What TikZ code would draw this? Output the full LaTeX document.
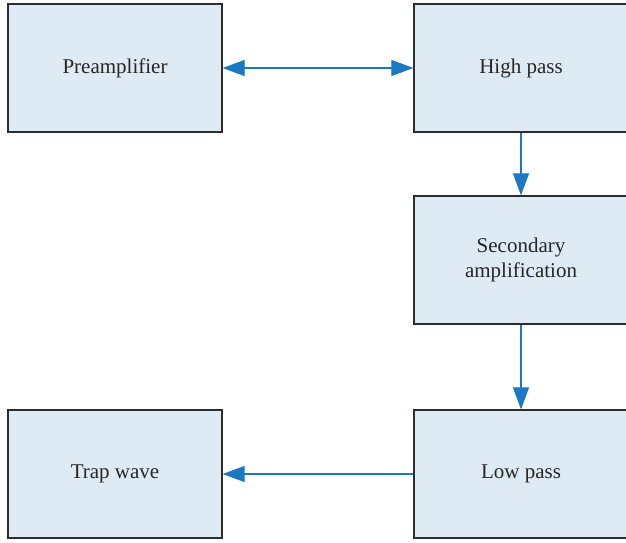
\documentclass[tikz,border=0pt]{standalone}
\usepackage{fontspec}
\setmainfont{Liberation Serif}
\usepackage{tikz}
\usetikzlibrary{arrows.meta}
\definecolor{boxfill}{RGB}{222,234,244}
\definecolor{boxline}{RGB}{45,45,45}
\definecolor{flow}{RGB}{27,120,194}

\tikzset{
	block/.style={draw=boxline, fill=boxfill, line width=1.3pt, minimum width=214pt, minimum height=128pt, inner sep=0pt, align=center, font=\fontsize{21}{25}\selectfont, text=black!85},
	flowline/.style={draw=flow, line width=1.2pt, -{Triangle[length=22pt,width=16pt]}}
}

\begin{document}
\begin{tikzpicture}[x=1pt,y=-1pt]
	\clip (0,0) rectangle (626,542);
	\fill[white] (0,0) rectangle (626,542);

	\node[block] (pre) at (115,68) {Preamplifier};
	\node[block] (hp) at (521,68) {High pass};
	\node[block] (sec) at (521,260) {Secondary\\amplification};
	\node[block] (lp) at (521,474) {Low pass};
	\node[block] (trap) at (115,474) {Trap wave};

	\draw[flowline, {Triangle[length=22pt,width=16pt]}-{Triangle[length=22pt,width=16pt]}] (pre) -- (hp);
	\draw[flowline] (hp) -- (sec);
	\draw[flowline] (sec) -- (lp);
	\draw[flowline] (lp) -- (trap);

\end{tikzpicture}
\end{document}
